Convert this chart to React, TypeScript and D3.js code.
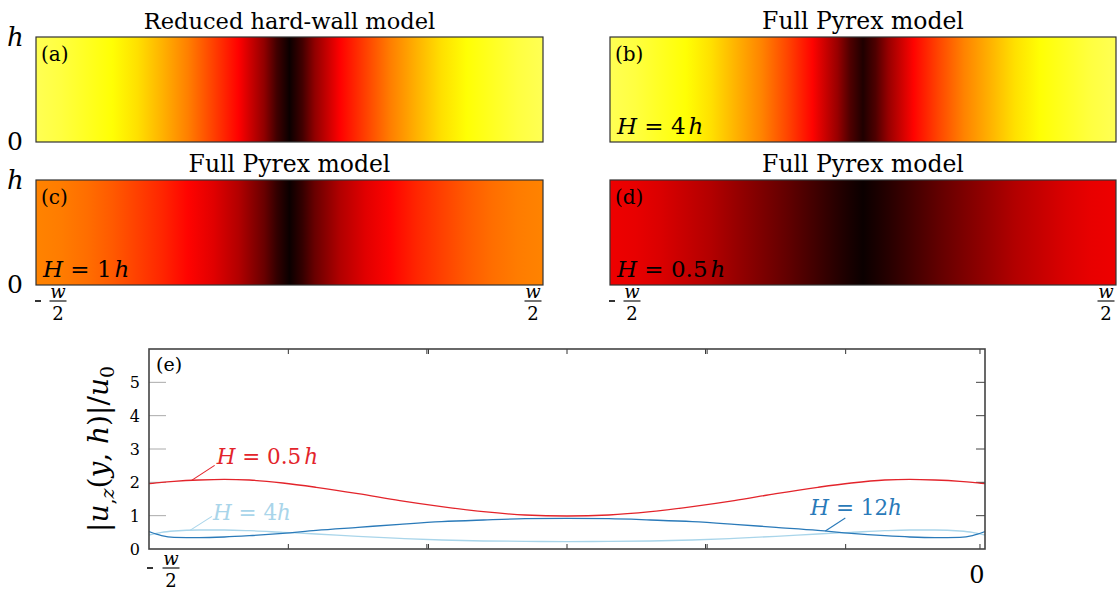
import React from "react";
import * as d3 from "d3";

// ---------- heat-map data (colormap value across channel width, t = 0..1) ----------
const heatPos = [0, 0.05, 0.1, 0.15, 0.2, 0.25, 0.3, 0.35, 0.4, 0.45, 0.475, 0.5, 0.525, 0.55, 0.6, 0.65, 0.7, 0.75, 0.8, 0.85, 0.9, 0.95, 1];
const heatA = [0.83, 0.81, 0.78, 0.75, 0.7, 0.63, 0.555, 0.46, 0.365, 0.2, 0.08, 0.0, 0.08, 0.2, 0.365, 0.46, 0.555, 0.63, 0.7, 0.75, 0.78, 0.81, 0.83];
const heatB = [0.83, 0.81, 0.78, 0.75, 0.7, 0.63, 0.56, 0.47, 0.37, 0.21, 0.1, 0.03, 0.1, 0.21, 0.37, 0.47, 0.56, 0.63, 0.7, 0.75, 0.78, 0.81, 0.83];
const heatC = [0.56, 0.55, 0.53, 0.5, 0.46, 0.42, 0.37, 0.32, 0.25, 0.14, 0.06, 0.0, 0.06, 0.14, 0.25, 0.32, 0.37, 0.42, 0.46, 0.5, 0.53, 0.55, 0.56];
const heatD = [0.34, 0.33, 0.31, 0.28, 0.25, 0.21, 0.17, 0.13, 0.085, 0.04, 0.02, 0.0, 0.02, 0.04, 0.085, 0.13, 0.17, 0.21, 0.25, 0.28, 0.31, 0.33, 0.34];

// ---------- line-plot data (e) ----------
const curveT = [0, 0.015, 0.03, 0.06, 0.09, 0.12, 0.16, 0.2, 0.25, 0.3, 0.35, 0.4, 0.45, 0.5, 0.55, 0.6, 0.65, 0.7, 0.75, 0.8, 0.84, 0.88, 0.91, 0.94, 0.97, 0.985, 1];
const redH05 = [1.96, 2.0, 2.03, 2.07, 2.09, 2.07, 1.98, 1.85, 1.66, 1.45, 1.27, 1.12, 1.02, 0.99, 1.02, 1.12, 1.27, 1.45, 1.66, 1.85, 1.98, 2.07, 2.09, 2.07, 2.03, 2.0, 1.96];
const blueH12 = [0.52, 0.4, 0.35, 0.34, 0.36, 0.4, 0.47, 0.56, 0.65, 0.74, 0.82, 0.87, 0.91, 0.92, 0.91, 0.87, 0.82, 0.74, 0.65, 0.56, 0.47, 0.4, 0.36, 0.34, 0.35, 0.4, 0.52];
const lightH4 = [0.42, 0.5, 0.54, 0.57, 0.57, 0.55, 0.5, 0.45, 0.38, 0.32, 0.27, 0.24, 0.23, 0.22, 0.23, 0.24, 0.27, 0.32, 0.38, 0.45, 0.5, 0.55, 0.57, 0.57, 0.54, 0.5, 0.42];
const yTicks = [0, 1, 2, 3, 4, 5];
const xTicks = [1 / 6, 2 / 6, 3 / 6, 4 / 6, 5 / 6];

const SERIF = "'DejaVu Serif', 'Liberation Serif', serif";
const hot = d3
  .scaleLinear<string>()
  .domain([0, 0.365, 0.746, 1])
  .range(["#0b0000", "#ff0000", "#ffff00", "#ffffff"])
  .clamp(true);

const panels = [
  { id: "a", x: 36, y: 37, w: 507, h: 105, title: "Reduced hard-wall model", tag: "(a)", H: null as string | null, vals: heatA },
  { id: "b", x: 610, y: 37, w: 506, h: 105, title: "Full Pyrex model", tag: "(b)", H: "4", vals: heatB },
  { id: "c", x: 36, y: 180, w: 507, h: 105, title: "Full Pyrex model", tag: "(c)", H: "1", vals: heatC },
  { id: "d", x: 610, y: 180, w: 506, h: 105, title: "Full Pyrex model", tag: "(d)", H: "0.5", vals: heatD },
];

function Frac({ cx, bar, fs = 18 }: { cx: number; bar: number; fs?: number }) {
  return (
    <g>
      <text x={cx} y={bar - 3} textAnchor="middle" fontStyle="italic" fontSize={fs}>w</text>
      <line x1={cx - 8.5} x2={cx + 8.5} y1={bar} y2={bar} stroke="#000" strokeWidth={1.1} />
      <text x={cx} y={bar + 19} textAnchor="middle" fontSize={fs}>2</text>
    </g>
  );
}

export default function App() {
  const ex = { left: 149, right: 985, top: 349, bottom: 549 };
  const x = d3.scaleLinear().domain([0, 1]).range([ex.left, ex.right]);
  const y = d3.scaleLinear().domain([0, 6]).range([ex.bottom, ex.top]);
  const mk = (vals: number[]) =>
    d3
      .line<number>()
      .x((_, i) => x(curveT[i]))
      .y((d) => y(d))
      .curve(d3.curveMonotoneX)(vals) as string;
  const interp = (vals: number[], t: number) => {
    const i = d3.bisectRight(curveT, t) - 1;
    const f = (t - curveT[i]) / (curveT[i + 1] - curveT[i]);
    return vals[i] + f * (vals[i + 1] - vals[i]);
  };

  const red = "#e3242b";
  const dblue = "#2a7ab9";
  const lblue = "#a9d5ea";

  const anchors = [
    { vals: redH05, t: 0.051, dx: 23, dy: -15, color: red, lx: 2, ly: -1, H: "0.5", sp: true },
    { vals: lightH4, t: 0.049, dx: 22, dy: -14, color: lblue, lx: 1, ly: 4, H: "4", sp: false },
    { vals: blueH12, t: 0.809, dx: 20, dy: -13, color: dblue, lx: -35, ly: -3, H: "12", sp: false },
  ];

  return (
    <svg
      width={1118}
      height={591}
      style={{ position: "absolute", left: 0, top: 0, background: "#fff", fontFamily: SERIF }}
    >
      <defs>
        {panels.map((p) => (
          <linearGradient key={p.id} id={"g" + p.id} x1="0" x2="1" y1="0" y2="0">
            {p.vals.map((v, i) => (
              <stop key={i} offset={heatPos[i]} stopColor={hot(v)} />
            ))}
          </linearGradient>
        ))}
        <clipPath id="eclip">
          <rect x={ex.left} y={ex.top} width={ex.right - ex.left} height={ex.bottom - ex.top} />
        </clipPath>
      </defs>

      {panels.map((p) => (
        <g key={p.id}>
          <text x={p.x + p.w / 2} y={p.y - 8} textAnchor="middle" fontSize={p.id === "a" ? 22.5 : 23.5}>
            {p.title}
          </text>
          <rect x={p.x} y={p.y} width={p.w} height={p.h} fill={`url(#g${p.id})`} stroke="#333" strokeWidth={1.2} />
          <text x={p.x + 5} y={p.y + 24} fontSize={20}>{p.tag}</text>
          {p.H && (
            <text x={p.x + 7} y={p.y + p.h - 8} fontSize={23} style={{ whiteSpace: "pre" }}>
              <tspan fontStyle="italic">H</tspan>
              <tspan> = {p.H}</tspan>
              <tspan dx={3} fontStyle="italic">h</tspan>
            </text>
          )}
        </g>
      ))}

      {/* left y labels of heat maps */}
      {[37, 180].map((py) => (
        <g key={py}>
          <text x={7} y={py + 9} fontSize={26} fontStyle="italic">h</text>
          <text x={7} y={py + 113} fontSize={25}>0</text>
        </g>
      ))}

      {/* x labels of heat maps */}
      {[
        { l: 36, r: 543 },
        { l: 610, r: 1116 },
      ].map((p, i) => (
        <g key={i}>
          <line x1={p.l - 1} x2={p.l + 5} y1={301} y2={301} stroke="#000" strokeWidth={1.6} />
          <Frac cx={p.l + 22} bar={301} />
          <Frac cx={p.r - 10} bar={301} />
        </g>
      ))}

      {/* panel (e) */}
      <g>
        {yTicks.filter((t) => t > 0).map((t) => (
          <g key={t}>
            <line x1={ex.left} x2={ex.left + 17} y1={y(t)} y2={y(t)} stroke="#aaa" strokeWidth={1} />
            <line x1={ex.right - 9} x2={ex.right} y1={y(t)} y2={y(t)} stroke="#444" strokeWidth={1} />
          </g>
        ))}
        {yTicks.map((t) => (
          <text key={t} x={140} y={y(t) + 6} textAnchor="end" fontSize={16}>
            {t}
          </text>
        ))}
        {[...xTicks, 0.994].map((t, i) => {
          const dbl = i === 1 || i === 3;
          const offs = dbl ? [-0.8, 0.8] : [0];
          return (
            <g key={i}>
              {offs.map((o, k) => (
                <g key={k}>
                  <line x1={x(t) + o} x2={x(t) + o} y1={ex.top} y2={ex.top + 5} stroke="#333" strokeWidth={1} />
                  <line x1={x(t) + o} x2={x(t) + o} y1={ex.bottom} y2={ex.bottom - 5} stroke="#333" strokeWidth={1} />
                </g>
              ))}
            </g>
          );
        })}
        <g clipPath="url(#eclip)" fill="none" strokeWidth={1.3}>
          <path d={mk(lightH4)} stroke={lblue} />
          <path d={mk(blueH12)} stroke={dblue} />
          <path d={mk(redH05)} stroke={red} />
        </g>
        <rect x={ex.left} y={ex.top} width={ex.right - ex.left} height={ex.bottom - ex.top} fill="none" stroke="#444" strokeWidth={1.6} />
        <text x={ex.left + 7} y={ex.top + 22} fontSize={19}>(e)</text>

        {anchors.map((a, i) => {
          const x0 = x(a.t);
          const y0 = y(interp(a.vals, a.t));
          const x1 = x0 + a.dx;
          const y1 = y0 + a.dy;
          return (
            <g key={i}>
              <line x1={x0} y1={y0} x2={x1} y2={y1} stroke={a.color} strokeWidth={1.1} />
              <text x={x1 + a.lx} y={y1 + a.ly} fill={a.color} fontSize={21.5} style={{ whiteSpace: "pre" }}>
                <tspan fontStyle="italic">H</tspan>
                <tspan> = {a.H}</tspan>
                <tspan dx={a.sp ? 3 : 0} fontStyle="italic">h</tspan>
              </text>
            </g>
          );
        })}

        {/* x labels */}
        <line x1={ex.left - 2} x2={ex.left + 4} y1={568} y2={568} stroke="#000" strokeWidth={1.6} />
        <Frac cx={ex.left + 22} bar={568} />
        <text x={x(1) - 8} y={583} textAnchor="middle" fontSize={24}>0</text>

        {/* y label */}
        <text
          transform={`translate(108, 449) rotate(-90)`}
          textAnchor="middle"
          fontSize={28}
          style={{ whiteSpace: "pre" }}
        >
          <tspan>|</tspan>
          <tspan fontStyle="italic">u</tspan>
          <tspan fontSize={19} dy={6}>,</tspan>
          <tspan fontSize={19} fontStyle="italic">z</tspan>
          <tspan dy={-6}>(</tspan>
          <tspan fontStyle="italic">y</tspan>
          <tspan>, </tspan>
          <tspan fontStyle="italic">h</tspan>
          <tspan>)|/</tspan>
          <tspan fontStyle="italic">u</tspan>
          <tspan fontSize={19} dy={6}>0</tspan>
        </text>
      </g>
    </svg>
  );
}
